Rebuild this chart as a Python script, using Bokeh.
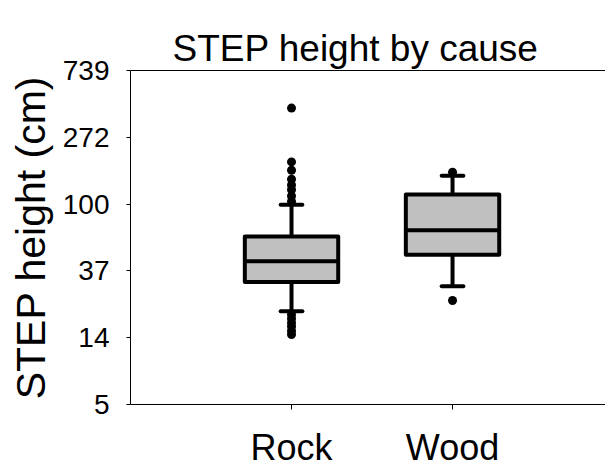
from bokeh.plotting import figure
from bokeh.models import Range1d, FixedTicker, LinearAxis
from bokeh.embed import file_html
from bokeh.resources import INLINE

# ---- data ----
title_text = "STEP height by cause"
categories = ["Rock", "Wood"]
cat_pos = [1, 2]
q1 = [31.1, 46.8]
median = [42.5, 67.6]
q3 = [61.6, 115.6]
whisker_low = [20.1, 29.2]
whisker_high = [99.0, 152.8]

rock_outliers = [421, 188, 166, 145, 133, 124, 113, 104,
                 19.1, 18.0, 16.9, 16.0, 15.0, 14.2]
wood_outliers = [161, 23.6]

ytick_values = [4.9787, 13.5335, 36.7879, 100.0, 271.8282, 738.9056]
ytick_labels = ["5", "14", "37", "100", "272", "739"]

FONT = "Liberation Sans"
BOX_W = 0.58
CAP_W = 0.135
LW = 4

p = figure(width=605, height=470, y_axis_type="log",
           x_range=Range1d(0, 2.95),
           y_range=Range1d(ytick_values[0], ytick_values[-1]),
           output_backend="svg", toolbar_location=None,
           title=title_text,
           min_border_left=130, min_border_right=0,
           min_border_top=70, min_border_bottom=60)

p.outline_line_color = None
p.xgrid.grid_line_color = None
p.ygrid.grid_line_color = None
p.background_fill_color = "white"

p.title.text_font = FONT
p.title.text_font_size = "37px"
p.title.text_font_style = "normal"
p.title.align = "left"
p.title.offset = 42
p.title.standoff = 4
p.title.text_color = "black"

# y axis
ya = p.left[0]
ya.ticker = FixedTicker(ticks=ytick_values)
ya.major_label_overrides = {v: l for v, l in zip(ytick_values, ytick_labels)}
ya.minor_tick_line_color = None
ya.major_tick_in = 0
ya.major_tick_out = 4
ya.major_label_standoff = 17
ya.major_label_text_font = FONT
ya.major_label_text_font_size = "28px"
ya.major_label_text_color = "black"
ya.axis_label = "STEP height (cm)"
ya.axis_label_text_font = FONT
ya.axis_label_text_font_size = "41px"
ya.axis_label_text_font_style = "normal"
ya.axis_label_text_color = "black"
ya.axis_label_standoff = 6
ya.axis_line_color = "black"
ya.major_tick_line_color = "black"

# x axis (bottom)
xa = p.below[0]
xa.ticker = FixedTicker(ticks=cat_pos)
xa.major_label_overrides = {c: n for c, n in zip(cat_pos, categories)}
xa.minor_tick_line_color = None
xa.major_tick_in = 0
xa.major_tick_out = 5
xa.major_label_standoff = 17
xa.major_label_text_font = FONT
xa.major_label_text_font_size = "36px"
xa.major_label_text_color = "black"
xa.axis_line_color = "black"
xa.major_tick_line_color = "black"

# top border line (an empty axis with no ticks; its tick length spaces the title)
top = LinearAxis(ticker=FixedTicker(ticks=[]), axis_line_color="black",
                 major_tick_line_color="black", minor_tick_line_color=None,
                 major_tick_in=0, major_tick_out=21, minor_tick_in=0,
                 minor_tick_out=0, major_label_standoff=0)
p.add_layout(top, "above")

# whisker stems
p.segment(x0=cat_pos, x1=cat_pos, y0=q3, y1=whisker_high,
          line_color="black", line_width=LW)
p.segment(x0=cat_pos, x1=cat_pos, y0=q1, y1=whisker_low,
          line_color="black", line_width=LW)
# boxes
p.vbar(x=cat_pos, width=BOX_W, bottom=q1, top=q3,
       fill_color="#c0c0c0", line_color="black", line_width=LW,
       line_join="round")
# medians
p.segment(x0=[c - BOX_W / 2 for c in cat_pos], x1=[c + BOX_W / 2 for c in cat_pos],
          y0=median, y1=median, line_color="black", line_width=LW)
# caps
for ys in (whisker_high, whisker_low):
    p.segment(x0=[c - CAP_W / 2 for c in cat_pos], x1=[c + CAP_W / 2 for c in cat_pos],
              y0=ys, y1=ys, line_color="black", line_width=LW, line_cap="round")
# outliers
p.scatter(x=[cat_pos[0]] * len(rock_outliers), y=rock_outliers, size=9,
          fill_color="black", line_color=None)
p.scatter(x=[cat_pos[1]] * len(wood_outliers), y=wood_outliers, size=9,
          fill_color="black", line_color=None)

open("out.html", "w").write(file_html(p, INLINE))
